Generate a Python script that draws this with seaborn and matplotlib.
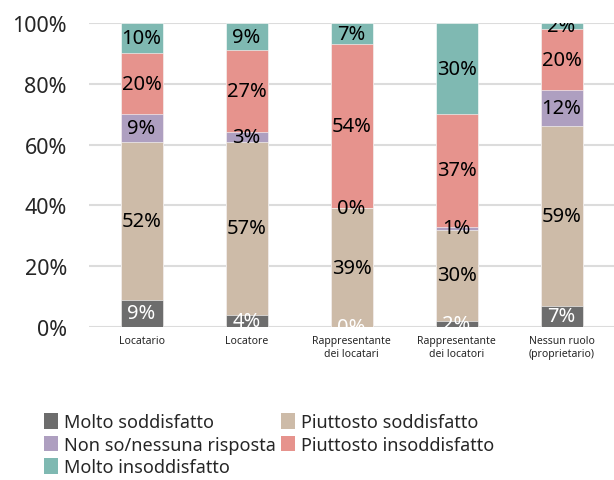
import pandas as pd
import matplotlib.pyplot as plt
import numpy as np
import seaborn as sns

# Dati (percentuali)
ruoli = ['Locatario', 'Locatore', 'Rappresentante\ndei locatari',
         'Rappresentante\ndei locatori', 'Nessun ruolo\n(proprietario)']
categorie = ['Molto soddisfatto', 'Piuttosto soddisfatto', 'Non so/nessuna risposta',
             'Piuttosto insoddisfatto', 'Molto insoddisfatto']
molto_soddisfatto = [9, 4, 0, 2, 7]
piuttosto_soddisfatto = [52, 57, 39, 30, 59]
non_so = [9, 3, 0, 1, 12]
piuttosto_insoddisfatto = [20, 27, 54, 37, 20]
molto_insoddisfatto = [10, 9, 7, 30, 2]

colori = ['#6d6d6d', '#cdbba8', '#ae9fc0', '#e6938d', '#7fb9b2']
colori_testo = ['white', 'black', 'black', 'black', 'black']

valori = [molto_soddisfatto, piuttosto_soddisfatto, non_so,
          piuttosto_insoddisfatto, molto_insoddisfatto]

sns.set_style('white')
plt.rcParams['font.family'] = ['Noto Sans', 'DejaVu Sans']

fig = plt.figure(figsize=(6.14, 4.81), dpi=100)
ax = fig.add_axes([0.145, 0.318, 0.855, 0.632])

# Barre impilate: si disegnano le somme cumulate dalla più alta alla più bassa
cumulate = np.cumsum(np.array(valori), axis=0)
for k in range(len(categorie) - 1, -1, -1):
    df = pd.DataFrame({'Ruolo': ruoli, 'Valore': cumulate[k]})
    sns.barplot(data=df, x='Ruolo', y='Valore', color=colori[k], width=0.4,
                saturation=1, edgecolor='white', linewidth=0.4, ax=ax,
                label=categorie[k], zorder=2)

# Etichette al centro di ogni segmento
for k in range(len(categorie)):
    basi = cumulate[k] - np.array(valori[k])
    for i, v in enumerate(valori[k]):
        ax.text(i, basi[i] + v / 2, f'{v}%', ha='center', va='center',
                fontsize=14.5, color=colori_testo[k], clip_on=True, zorder=3)

ax.set_ylim(0, 100)
ax.set_xlim(-0.5, 4.5)
ax.set_yticks(range(0, 101, 20))
ax.set_yticklabels([f'{t}%' for t in range(0, 101, 20)], fontsize=15.5)
ax.tick_params(axis='y', length=0, pad=16)
ax.tick_params(axis='x', length=0, pad=6, labelsize=7.5)
ax.set_xlabel('')
ax.set_ylabel('')
ax.yaxis.grid(True, color='#dcdcdc', linewidth=1.5, zorder=0)
ax.set_axisbelow(True)
sns.despine(ax=ax, left=True, bottom=True)

# Legenda: riempita per righe come nell'originale (colonne: 0,2,4 | 1,3)
handles, labels = ax.get_legend_handles_labels()
per_nome = {l: h for h, l in zip(handles, labels)}
ordine_legenda = [categorie[i] for i in (0, 2, 4, 1, 3)]
leg = ax.legend([per_nome[c] for c in ordine_legenda], ordine_legenda, loc='upper left',
                bbox_to_anchor=(-0.10, -0.26), ncol=2, frameon=False, fontsize=13,
                handlelength=0.8, handleheight=0.95, handletextpad=0.3,
                labelspacing=0.25, columnspacing=0.3, borderaxespad=0)
for h in leg.legend_handles:
    h.set_linewidth(0)

fig.savefig('out.png', dpi=100)
